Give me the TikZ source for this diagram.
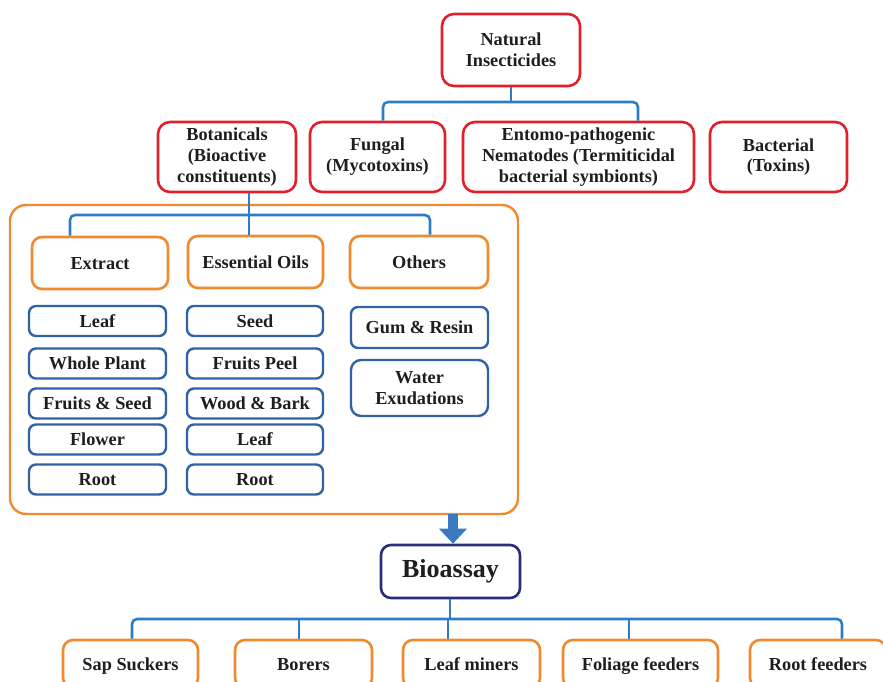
\documentclass[tikz,border=0pt]{standalone}
\usepackage{fontspec}
\setmainfont{Liberation Serif}
\usetikzlibrary{arrows.meta,calc}
\definecolor{cred}{HTML}{E0202A}
\definecolor{corange}{HTML}{F08A2E}
\definecolor{cbluebox}{HTML}{2F62A6}
\definecolor{cconn}{HTML}{2F7CC6}
\definecolor{cnavy}{HTML}{2A2D78}
\definecolor{ctext}{HTML}{1E1E1E}
\definecolor{carrow}{HTML}{3A78C0}
\begin{document}
\begin{tikzpicture}[x=1pt,y=-1pt,
  base/.style={draw, rounded corners=10pt, line width=2.6pt, fill=white, text=ctext,
    font=\fontsize{18.3}{20.8}\selectfont\bfseries, align=center, inner sep=0pt},
  redbox/.style={base, draw=cred, rounded corners=12pt},
  orbox/.style={base, draw=corange},
  bluebox/.style={base, draw=cbluebox, line width=2.4pt, rounded corners=7pt},
  oneline/.style={text height=14pt, text depth=2pt},
  conn/.style={draw=cconn, line width=2.6pt, rounded corners=5pt},
]
\useasboundingbox (0,0) rectangle (883,682);

% top level
\node[redbox, minimum width=138pt, minimum height=72pt] (nat) at (511,50) {Natural\\Insecticides};
\node[redbox, minimum width=138pt, minimum height=70pt] (bot) at (227,157) {Botanicals\\(Bioactive\\constituents)};
\node[redbox, minimum width=135pt, minimum height=70pt] (fun) at (377.5,157) {Fungal\\(Mycotoxins)};
\node[redbox, minimum width=231pt, minimum height=70pt] (ent) at (578.5,157) {Entomo-pathogenic\\Nematodes (Termiticidal\\bacterial symbionts)};
\node[redbox, minimum width=137pt, minimum height=70pt] (bac) at (778.5,157) {Bacterial\\(Toxins)};

% big orange container
\node[draw=corange, line width=2.4pt, rounded corners=16pt, minimum width=508pt, minimum height=309pt, inner sep=0pt] (big) at (264,359.5) {};

\node[orbox, oneline, minimum width=136pt, minimum height=52pt] (ext) at (100,263) {Extract};
\node[orbox, oneline, minimum width=135pt, minimum height=52pt] (ess) at (255.5,262) {Essential Oils};
\node[orbox, oneline, minimum width=138pt, minimum height=52pt] (oth) at (419,262) {Others};

\node[bluebox, oneline, minimum width=137pt, minimum height=30pt] (e1) at (97.5,321) {Leaf};
\node[bluebox, oneline, minimum width=137pt, minimum height=30pt] (e2) at (97.5,363.5) {Whole Plant};
\node[bluebox, oneline, minimum width=137pt, minimum height=30pt] (e3) at (97.5,403.5) {Fruits \& Seed};
\node[bluebox, oneline, minimum width=137pt, minimum height=30pt] (e4) at (97.5,439.5) {Flower};
\node[bluebox, oneline, minimum width=137pt, minimum height=30pt] (e5) at (97.5,479.5) {Root};

\node[bluebox, oneline, minimum width=136pt, minimum height=30pt] (o1) at (255,321) {Seed};
\node[bluebox, oneline, minimum width=136pt, minimum height=30pt] (o2) at (255,363.5) {Fruits Peel};
\node[bluebox, oneline, minimum width=136pt, minimum height=30pt] (o3) at (255,403.5) {Wood \& Bark};
\node[bluebox, oneline, minimum width=136pt, minimum height=30pt] (o4) at (255,439.5) {Leaf};
\node[bluebox, oneline, minimum width=136pt, minimum height=30pt] (o5) at (255,479.5) {Root};

\node[bluebox, oneline, minimum width=137pt, minimum height=41pt] (g1) at (419.5,327.5) {Gum \& Resin};
\node[bluebox, minimum width=137pt, minimum height=56pt, rounded corners=10pt] (g2) at (419.5,388) {Water\\Exudations};

% bioassay
\node[base, draw=cnavy, minimum width=139pt, minimum height=53pt, font=\fontsize{26}{29}\selectfont\bfseries] (bio) at (450.5,571.5) {Bioassay};

% bottom row
\node[orbox, oneline, minimum width=135pt, minimum height=48pt] (b1) at (130.5,664) {Sap Suckers};
\node[orbox, oneline, minimum width=137pt, minimum height=48pt] (b2) at (303.5,664) {Borers};
\node[orbox, oneline, minimum width=137pt, minimum height=48pt] (b3) at (471.5,664) {Leaf miners};
\node[orbox, oneline, minimum width=155pt, minimum height=48pt] (b4) at (640.5,664) {Foliage feeders};
\node[orbox, oneline, minimum width=136pt, minimum height=48pt] (b5) at (818,664) {Root feeders};

% connectors: top
\coordinate (n0) at (511,102);
\coordinate (n1) at (383,102);
\coordinate (n2) at (638,102);
\draw[conn] (nat.south) -- (n0);
\draw[conn] (n1 |- fun.north) -- (n1) -- (n2) -- (n2 |- ent.north);

% connectors: botanicals
\coordinate (c0) at (249,215);
\coordinate (c1) at (70,215);
\coordinate (c3) at (430,215);
\draw[conn] (c0 |- bot.south) -- (c0);
\draw[conn] (c1 |- ext.north) -- (c1) -- (c3) -- (c3 |- oth.north);
\draw[conn] (c0) -- (c0 |- ess.north);

% arrow to bioassay
\coordinate (a0) at (453,514);
\draw[carrow, line width=10pt, -{Triangle[width=27pt,length=15pt]}] (a0) -- (a0 |- bio.north);

% connectors: bottom
\coordinate (d0) at (450,619);
\coordinate (d1) at (132,619);
\coordinate (d2) at (299,619);
\coordinate (d3) at (448,619);
\coordinate (d4) at (629,619);
\coordinate (d5) at (842,619);
\draw[conn] (d0 |- bio.south) -- (d0);
\draw[conn] (d1 |- b1.north) -- (d1) -- (d5) -- (d5 |- b5.north);
\draw[conn] (d2) -- (d2 |- b2.north);
\draw[conn] (d3) -- (d3 |- b3.north);
\draw[conn] (d4) -- (d4 |- b4.north);
\end{tikzpicture}
\end{document}
